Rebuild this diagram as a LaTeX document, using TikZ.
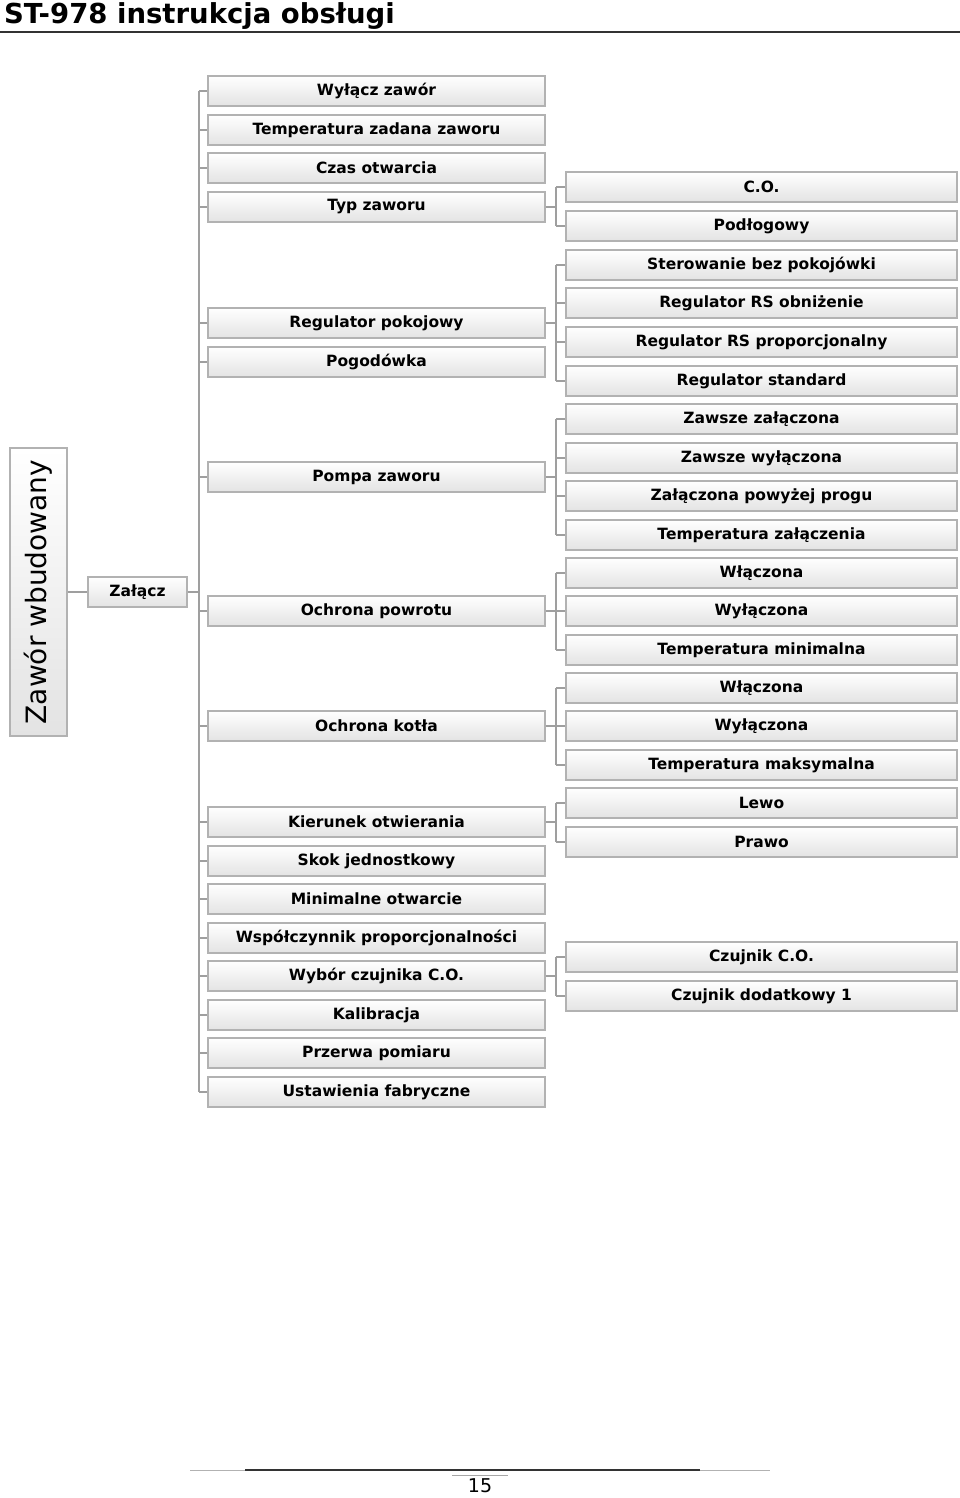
\documentclass[tikz,border=0pt]{standalone}
\usepackage{fontspec}
\setmainfont{DejaVu Sans}
\usetikzlibrary{calc}

\tikzset{
  menubox/.style={draw=gray!60, line width=1.1pt, top color=white, middle color=white,
    bottom color=gray!22, minimum height=30pt, inner sep=0pt,
    font=\bfseries\fontsize{15.5}{18}\selectfont},
  lvltwo/.style={menubox, minimum width=337pt},
  lvlthree/.style={menubox, minimum width=391pt},
  link/.style={draw=gray!75, line width=1.5pt},
}

\begin{document}
\begin{tikzpicture}[x=1pt, y=-1pt]
        \useasboundingbox (0,0) rectangle (960,1498);

        \coordinate (bus) at (199, 0);
        \coordinate (sub) at (556, 0);

        % header
        \node[anchor=base west, inner sep=0pt, font=\bfseries\fontsize{27.5}{32}\selectfont] (title) at (4, 24) {ST-978 instrukcja obsługi};
        \draw[line width=2pt, black!80] (0, 32) -- (960, 32);

        % root and first level
        \node[menubox, rotate=90, minimum width=288pt, minimum height=57pt,
              font=\fontsize{28}{32}\selectfont] (root) at (38.5, 592) {Zawór wbudowany};
        \node[menubox, minimum width=99pt] (zal) at (137.5, 592) {Załącz};

        % second level
        \node[lvltwo] (wylacz) at (376.5, 91) {Wyłącz zawór};
        \node[lvltwo] (tempzad) at (376.5, 130) {Temperatura zadana zaworu};
        \node[lvltwo] (czas) at (376.5, 168) {Czas otwarcia};
        \node[lvltwo] (typ) at (376.5, 207) {Typ zaworu};
        \node[lvltwo] (regpok) at (376.5, 323) {Regulator pokojowy};
        \node[lvltwo] (pogod) at (376.5, 362) {Pogodówka};
        \node[lvltwo] (pompa) at (376.5, 477) {Pompa zaworu};
        \node[lvltwo] (powrot) at (376.5, 611) {Ochrona powrotu};
        \node[lvltwo] (kociol) at (376.5, 726) {Ochrona kotła};
        \node[lvltwo] (kierunek) at (376.5, 822) {Kierunek otwierania};
        \node[lvltwo] (skok) at (376.5, 861) {Skok jednostkowy};
        \node[lvltwo] (minotw) at (376.5, 899) {Minimalne otwarcie};
        \node[lvltwo] (wspol) at (376.5, 938) {Współczynnik proporcjonalności};
        \node[lvltwo] (czujnik) at (376.5, 976) {Wybór czujnika C.O.};
        \node[lvltwo] (kalib) at (376.5, 1015) {Kalibracja};
        \node[lvltwo] (przerwa) at (376.5, 1053) {Przerwa pomiaru};
        \node[lvltwo] (fabr) at (376.5, 1092) {Ustawienia fabryczne};

        % third level
        \node[lvlthree] (co) at (761.5, 187) {C.O.};
        \node[lvlthree] (podl) at (761.5, 226) {Podłogowy};
        \node[lvlthree] (rbez) at (761.5, 265) {Sterowanie bez pokojówki};
        \node[lvlthree] (rsobn) at (761.5, 303) {Regulator RS obniżenie};
        \node[lvlthree] (rsprop) at (761.5, 342) {Regulator RS proporcjonalny};
        \node[lvlthree] (rstd) at (761.5, 381) {Regulator standard};
        \node[lvlthree] (zzal) at (761.5, 419) {Zawsze załączona};
        \node[lvlthree] (zwyl) at (761.5, 458) {Zawsze wyłączona};
        \node[lvlthree] (zprog) at (761.5, 496) {Załączona powyżej progu};
        \node[lvlthree] (ztemp) at (761.5, 535) {Temperatura załączenia};
        \node[lvlthree] (pwl) at (761.5, 573) {Włączona};
        \node[lvlthree] (pwyl) at (761.5, 611) {Wyłączona};
        \node[lvlthree] (pmin) at (761.5, 650) {Temperatura minimalna};
        \node[lvlthree] (kwl) at (761.5, 688) {Włączona};
        \node[lvlthree] (kwyl) at (761.5, 726) {Wyłączona};
        \node[lvlthree] (kmax) at (761.5, 765) {Temperatura maksymalna};
        \node[lvlthree] (lewo) at (761.5, 803) {Lewo};
        \node[lvlthree] (prawo) at (761.5, 842) {Prawo};
        \node[lvlthree] (czco) at (761.5, 957) {Czujnik C.O.};
        \node[lvlthree] (czdod) at (761.5, 996) {Czujnik dodatkowy 1};

        % connectors
        \draw[link] (root.south) -- (zal.west);
        \draw[link] (zal.east) -- (zal.east -| bus);
        \draw[link] (wylacz.west -| bus) -- (fabr.west -| bus);
        \foreach \n in {wylacz,tempzad,czas,typ,regpok,pogod,pompa,powrot,kociol,
                        kierunek,skok,minotw,wspol,czujnik,kalib,przerwa,fabr}
            \draw[link] (\n.west -| bus) -- (\n.west);

        \foreach \p/\a/\b/\list in {typ/co/podl/{co,podl},
                                    regpok/rbez/rstd/{rbez,rsobn,rsprop,rstd},
                                    pompa/zzal/ztemp/{zzal,zwyl,zprog,ztemp},
                                    powrot/pwl/pmin/{pwl,pwyl,pmin},
                                    kociol/kwl/kmax/{kwl,kwyl,kmax},
                                    kierunek/lewo/prawo/{lewo,prawo},
                                    czujnik/czco/czdod/{czco,czdod}} {
            \draw[link] (\p.east) -- (\p.east -| sub);
            \draw[link] (\a.west -| sub) -- (\b.west -| sub);
            \foreach \c in \list
                \draw[link] (\c.west -| sub) -- (\c.west);
        }

        % footer
        \draw[gray!60, line width=0.8pt] (190, 1470) -- (770, 1470);
        \draw[black!80, line width=1.2pt] (245, 1470) -- (700, 1470);
        \draw[gray!70, line width=0.8pt] (452, 1475) -- (508, 1475);
        \node[font=\fontsize{19}{22}\selectfont, inner sep=0pt] (page) at (480, 1486) {15};

    \end{tikzpicture}
\end{document}
